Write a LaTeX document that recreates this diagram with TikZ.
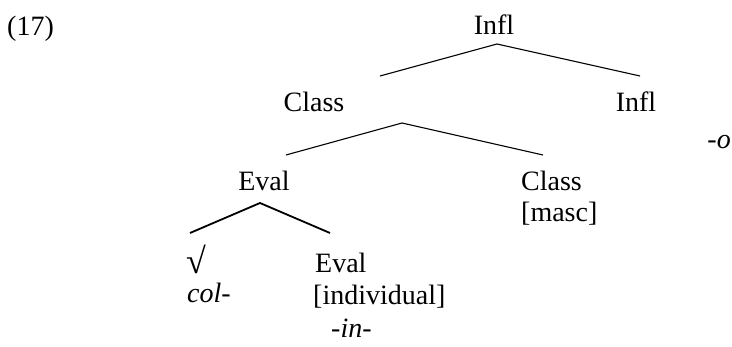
\documentclass[tikz,border=0pt]{standalone}
\usepackage{fontspec}
\setmainfont{Liberation Serif}

\begin{document}
\begin{tikzpicture}[
	x=1pt, y=-1pt,
	font=\fontsize{28}{31}\selectfont,
	branch/.style={line width=1.1pt},
	lowbranch/.style={line width=1.8pt}]

\tikzstyle{cat} = [
    anchor = base,
    inner sep = 0pt
]
\tikzstyle{feat} = [
    anchor = base west,
    inner sep = 0pt
]
\tikzstyle{morph} = [
    anchor = base west,
    inner sep = 0pt,
    font = \fontsize{28}{31}\selectfont\itshape
]

\useasboundingbox (0,0) rectangle (732,347);

% example number
\node [feat] (exnum) at (7,36) {(17)};

% top level
\node [cat] (infl) at (494,35) {Infl};
\node [cat] (class) at (314,112) {Class};
\node [cat] (inflhead) at (636,112) {Infl};
\node [morph, anchor=base east] (o) at (731,149) {-o};

% class level
\node [cat] (eval) at (264,191) {Eval};
\node [feat] (classhead) at (521,191) {Class};
\node [feat] (masc) at (521,222) {[masc]};

% eval level
\node [feat, font=\fontsize{36}{36}\selectfont] (root) at (186,274) {√};
\node [morph] (col) at (187,303) {col-};
\node [feat] (evalhead) at (315,273) {Eval};
\node [feat] (indiv) at (313,305) {[individual]};
\node [morph] (in) at (331,338) {-in-};

% branches
\coordinate (infl-top) at (497,44);
\coordinate (infl-l) at (380,76);
\coordinate (infl-r) at (640,76);
\coordinate (class-top) at (402,123);
\coordinate (class-l) at (286,155);
\coordinate (class-r) at (543,155);
\coordinate (eval-top) at (260,203);
\coordinate (eval-l) at (190,233);
\coordinate (eval-r) at (330,233);

\draw [branch] (infl-l) -- (infl-top) -- (infl-r);
\draw [branch] (class-l) -- (class-top) -- (class-r);
\draw [lowbranch] (eval-l) -- (eval-top) -- (eval-r);
\end{tikzpicture}
\end{document}
